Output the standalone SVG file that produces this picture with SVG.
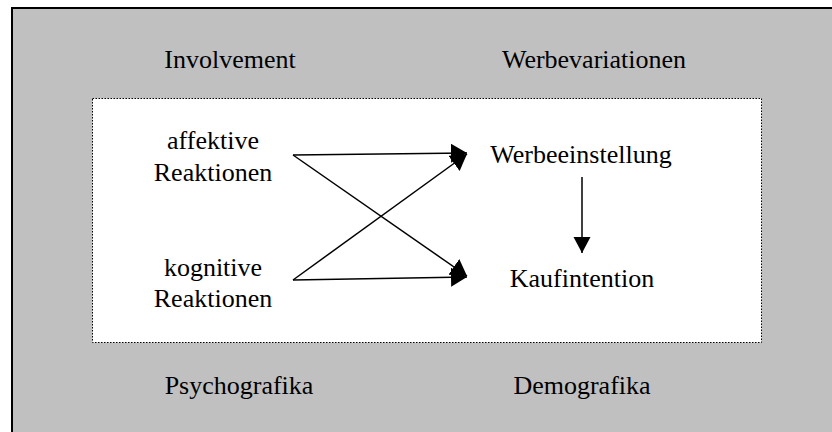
<svg xmlns="http://www.w3.org/2000/svg" width="832" height="432" viewBox="0 0 832 432">
<style>
text{font-family:"Liberation Serif","Times New Roman",serif;font-size:26px;fill:#000;text-anchor:middle}
.c{stroke:#000;stroke-width:1.5;fill:none}
</style>
<defs>
<marker id="ah" markerUnits="userSpaceOnUse" markerWidth="17" markerHeight="20" refX="16" refY="9.5" orient="auto">
<path d="M0,0 L16,9.5 L0,19 z" fill="#000"/>
</marker>
<marker id="av" markerUnits="userSpaceOnUse" markerWidth="17" markerHeight="18" refX="16" refY="8.5" orient="auto">
<path d="M0,0 L16,8.5 L0,17 z" fill="#000"/>
</marker>
</defs>
<rect x="12" y="8" width="840" height="440" fill="#c0c0c0" stroke="#000" stroke-width="2"/>
<rect x="92.5" y="98.5" width="669" height="244" fill="#fff" stroke="#000" stroke-width="1" stroke-dasharray="1.5 1.5"/>
<g id="involvement"><text x="230" y="68">Involvement</text></g>
<g id="werbevariationen"><text x="594" y="68">Werbevariationen</text></g>
<g id="psychografika"><text x="239" y="394">Psychografika</text></g>
<g id="demografika"><text x="582" y="394">Demografika</text></g>
<g id="affektiv"><text x="213" y="149">affektive</text><text x="213" y="181">Reaktionen</text></g>
<g id="kognitiv"><text x="213" y="276">kognitive</text><text x="213" y="307">Reaktionen</text></g>
<g id="werbeeinstellung"><text x="581" y="163">Werbeeinstellung</text></g>
<g id="kaufintention"><text x="582" y="287">Kaufintention</text></g>
<g id="connectors">
<line class="c" x1="293" y1="155" x2="467" y2="153" marker-end="url(#ah)"/>
<line class="c" x1="293" y1="155" x2="467" y2="276" marker-end="url(#ah)"/>
<line class="c" x1="293" y1="280" x2="467" y2="277" marker-end="url(#ah)"/>
<line class="c" x1="293" y1="280" x2="467" y2="154" marker-end="url(#ah)"/>
<line class="c" x1="582" y1="177" x2="582" y2="253" marker-end="url(#av)"/>
</g>
</svg>
